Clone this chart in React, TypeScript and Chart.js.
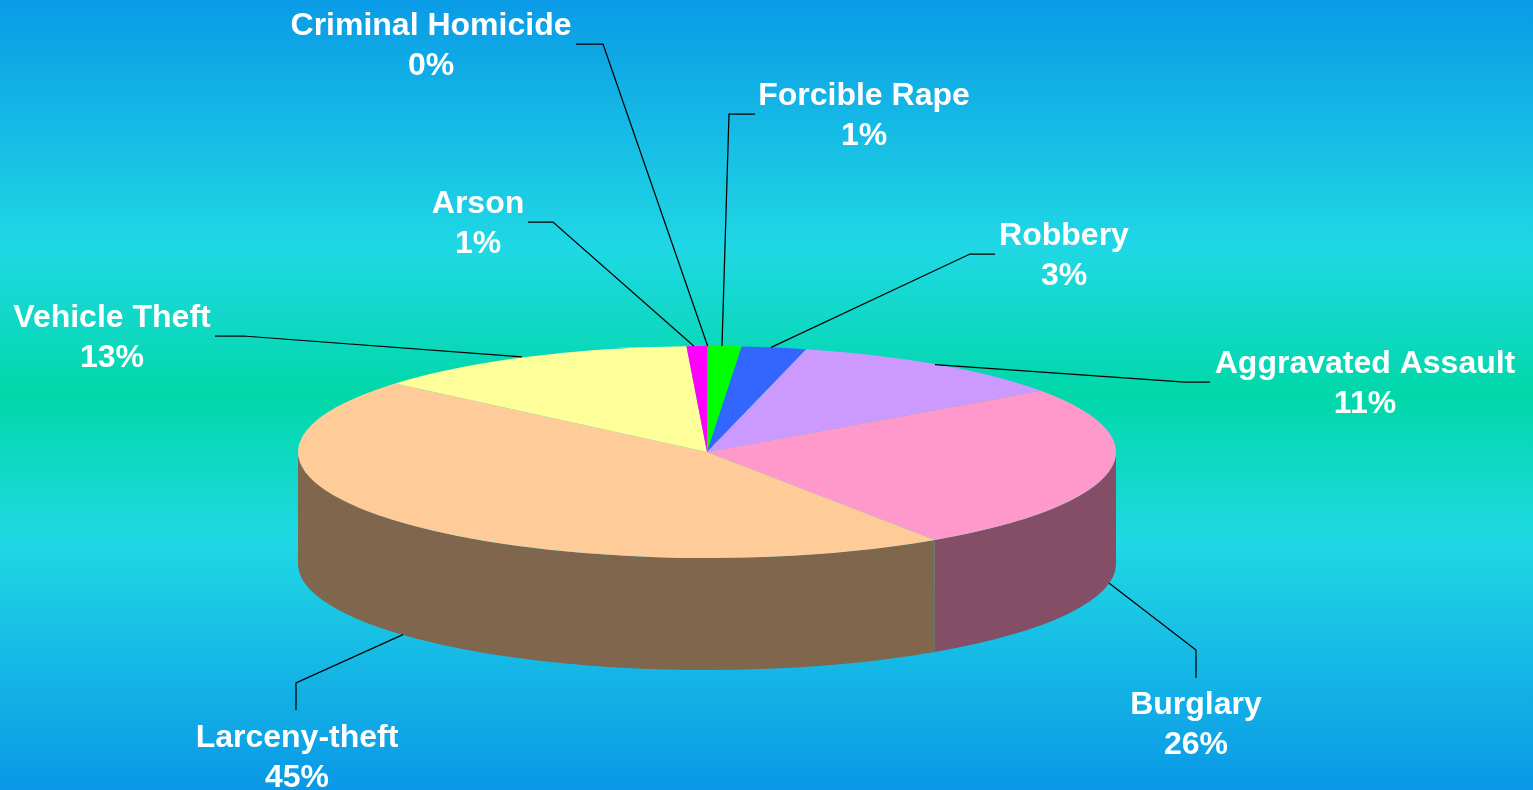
import React, { useEffect, useRef } from "react";
import { Chart, registerables } from "chart.js";

Chart.register(...registerables);

const categories = ["Criminal Homicide", "Forcible Rape", "Robbery", "Aggravated Assault", "Burglary", "Larceny-theft", "Vehicle Theft", "Arson"];
const shares = [0.05, 1.3, 2.55, 11.3, 25.4, 45.6, 13.0, 0.8];
const shareLabels = ["0%", "1%", "3%", "11%", "26%", "45%", "13%", "1%"];
const topColors = ["#8a8a8a", "#00FF00", "#3366FF", "#CC99FF", "#FF99CC", "#FFCC99", "#FFFF99", "#FF00FF"];
const sideColors = ["#454545", "#008000", "#1A3380", "#664D80", "#834E66", "#80664D", "#80804D", "#800080"];

// Annotation layout: label centre x, first-line y, elbow start x, elbow end x, elbow y
const labelX = [431, 864, 1064, 1365, 1196, 297, 112, 478];
const labelY = [26, 96, 236, 364, 705, 738, 318, 204];
const elbowFromX = [576, 755, 995, 1210, 1196, 296, 215, 528];
const elbowToX = [603, 729, 970, 1185, 1196, 296, 243, 553];
const elbowFromY = [44, 114, 254, 382, 678, 710, 336, 222];
const elbowToY = [44, 114, 254, 382, 650, 683, 336, 222];
const anchorNudgeX = [0, -3, -3, -3, 0, 1, -4, -3];

const RX = 409;
const RY = 106;
const DEPTH = 112;

const pie3d = {
  id: "pie3d",
  beforeDraw(chart: any) {
    const { ctx, width, height } = chart;
    const g = ctx.createLinearGradient(0, 0, 0, height);
    g.addColorStop(0, "#0A9BE6");
    g.addColorStop(250 / 790, "#20D8E4");
    g.addColorStop(395 / 790, "#00D8A8");
    g.addColorStop(540 / 790, "#20D8E4");
    g.addColorStop(1, "#0A98E6");
    ctx.save();
    ctx.fillStyle = g;
    ctx.fillRect(0, 0, width, height);
    ctx.restore();
  },
  beforeDatasetsDraw(chart: any) {
    const { ctx } = chart;
    const arcs = chart.getDatasetMeta(0).data;
    const cx = arcs[0].x;
    const cy = arcs[0].y;
    ctx.save();
    arcs.forEach((arc: any, i: number) => {
      // normalise to the front half of the rim, (0, PI) in canvas angles
      for (const shift of [0, Math.PI * 2]) {
        const a = Math.max(arc.startAngle - shift, 0);
        const b = Math.min(arc.endAngle - shift, Math.PI);
        if (b <= a) continue;
        ctx.beginPath();
        ctx.ellipse(cx, cy, RX, RY, 0, a, b, false);
        ctx.ellipse(cx, cy + DEPTH, RX, RY, 0, b, a, true);
        ctx.closePath();
        ctx.fillStyle = sideColors[i];
        ctx.fill();
      }
    });
    ctx.restore();
    ctx.save();
    ctx.translate(cx, cy);
    ctx.scale(RX / RY, 1);
    ctx.translate(-cx, -cy);
  },
  afterDatasetsDraw(chart: any) {
    const { ctx } = chart;
    ctx.restore();
    const arcs = chart.getDatasetMeta(0).data;
    const cx = arcs[0].x;
    const cy = arcs[0].y;
    ctx.save();
    ctx.strokeStyle = "#000000";
    ctx.lineWidth = 1.25;
    arcs.forEach((arc: any, i: number) => {
      const mid = (arc.startAngle + arc.endAngle) / 2;
      const px = cx + RX * Math.cos(mid) + anchorNudgeX[i];
      const sin = Math.sin(mid);
      const py = cy + RY * sin + (sin > 0 ? DEPTH : 0);
      ctx.beginPath();
      ctx.moveTo(elbowFromX[i], elbowFromY[i]);
      ctx.lineTo(elbowToX[i], elbowToY[i]);
      ctx.lineTo(px, py);
      ctx.stroke();
    });
    ctx.fillStyle = "#FFFFFF";
    ctx.font = 'bold 32px "Liberation Sans", Arial, sans-serif';
    ctx.textAlign = "center";
    ctx.textBaseline = "middle";
    categories.forEach((name, i) => {
      ctx.fillText(name, labelX[i], labelY[i]);
      ctx.fillText(shareLabels[i], labelX[i], labelY[i] + 40);
    });
    ctx.restore();
  },
};

export default function App() {
  const ref = useRef<HTMLCanvasElement>(null);
  useEffect(() => {
    document.body.style.margin = "0";
    const chart = new Chart(ref.current!, {
      type: "pie",
      data: {
        labels: categories,
        datasets: [
          {
            data: shares,
            backgroundColor: topColors,
            borderWidth: 0,
            clip: false,
          } as any,
        ],
      },
      options: {
        responsive: false,
        animation: false,
        layout: { padding: { left: 298, right: 417, top: 346, bottom: 232 } },
        plugins: { legend: { display: false }, tooltip: { enabled: false } },
      },
      plugins: [pie3d],
    });
    return () => chart.destroy();
  }, []);
  return <canvas ref={ref} width={1533} height={790} style={{ display: "block" }} />;
}
